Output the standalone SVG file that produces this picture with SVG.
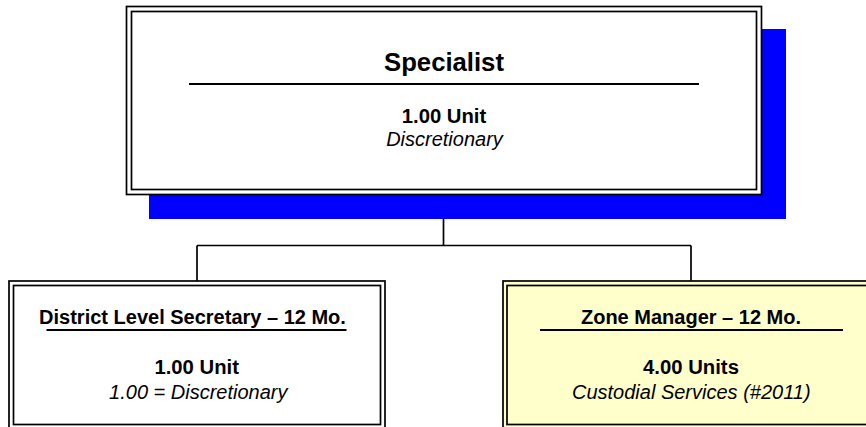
<svg xmlns="http://www.w3.org/2000/svg" width="866" height="427" viewBox="0 0 866 427">
<style>
.frame{fill:none;stroke:#000;stroke-width:1.7}
.conn{fill:none;stroke:#000;stroke-width:1.7}
.rule{stroke:#000;stroke-width:2}
text{font-family:"Liberation Sans",Arial,sans-serif;fill:#000;text-anchor:middle}
.b{font-weight:bold}
.i{font-style:italic}
</style>
<rect width="866" height="427" fill="#fff"/>
<g id="connectors">
<path class="conn" d="M443.5,194.5 V245.5 M197,245.5 H691 M197,245.5 V281 M691,245.5 V280.5"/>
</g>
<g id="specialist">
<rect x="149" y="29" width="637" height="190" fill="#0000ff"/>
<rect x="126.5" y="6.5" width="635" height="188" fill="#fff" stroke="#000" stroke-width="1.7"/>
<rect class="frame" x="131.5" y="11.5" width="625" height="178"/>
<text class="b" x="444" y="70.5" font-size="25.7">Specialist</text>
<line class="rule" x1="189" y1="84" x2="699" y2="84"/>
<text class="b" x="444" y="122.5" font-size="20.3">1.00 Unit</text>
<text class="i" x="444.5" y="146" font-size="20">Discretionary</text>
</g>
<g id="district-secretary">
<rect x="9" y="281" width="376" height="150" fill="#fff" stroke="#000" stroke-width="1.7"/>
<rect class="frame" x="13.5" y="285.5" width="367" height="139"/>
<text class="b" x="192.5" y="323.5" font-size="20">District Level Secretary – 12 Mo.</text>
<line class="rule" x1="46.5" y1="330" x2="346.5" y2="330"/>
<text class="b" x="196.7" y="374" font-size="20.3">1.00 Unit</text>
<text class="i" x="198.3" y="399" font-size="20">1.00 = Discretionary</text>
</g>
<g id="zone-manager">
<rect x="503" y="281" width="376" height="150" fill="#ffffcc" stroke="#000" stroke-width="1.7"/>
<rect class="frame" x="507" y="285.5" width="367" height="139"/>
<text class="b" x="691" y="323.5" font-size="20">Zone Manager – 12 Mo.</text>
<line class="rule" x1="540" y1="330" x2="843" y2="330"/>
<text class="b" x="691" y="374" font-size="20.3">4.00 Units</text>
<text class="i" x="691.3" y="398.5" font-size="20">Custodial Services (#2011)</text>
</g>
</svg>
